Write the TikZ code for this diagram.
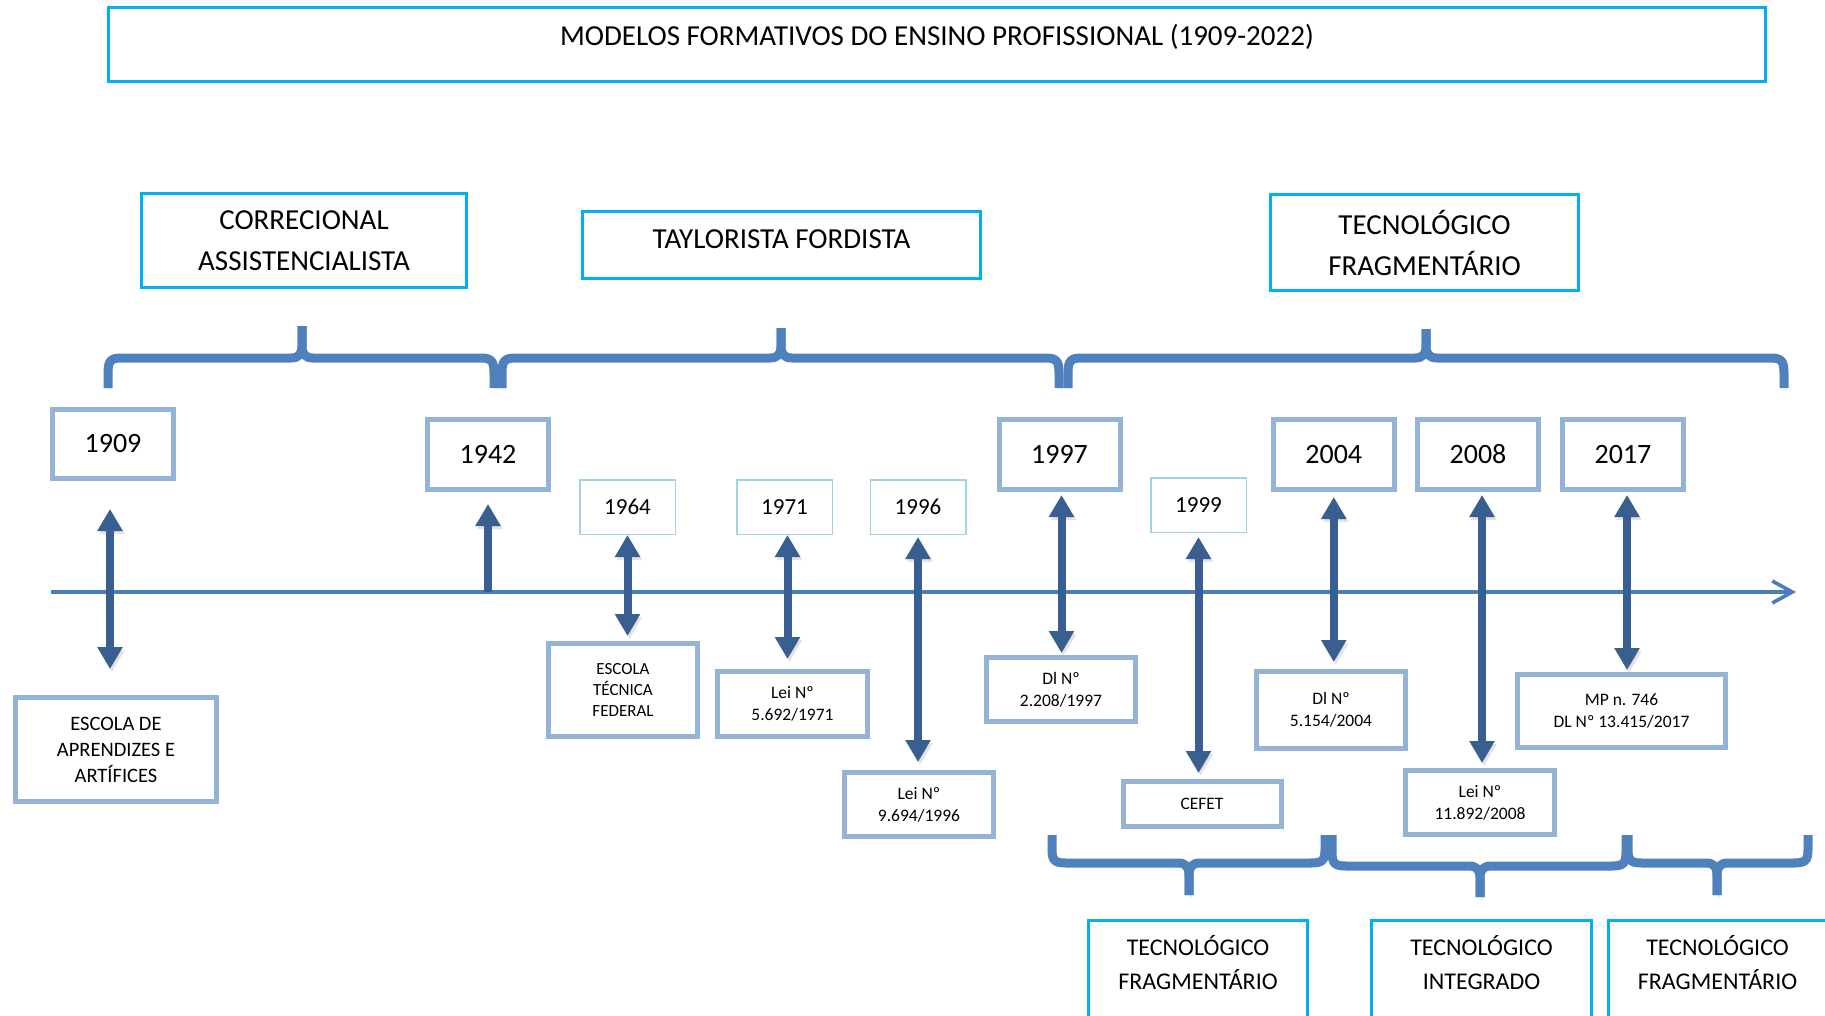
\documentclass[tikz,border=0pt]{standalone}
\usepackage{fontspec}
\setmainfont{Carlito}
\usetikzlibrary{arrows.meta}
\definecolor{cyanc}{HTML}{00B0F0}
\definecolor{yearc}{HTML}{95B3D7}
\definecolor{smallc}{HTML}{A2D2E4}
\definecolor{bracec}{HTML}{4F81BD}
\definecolor{arrowc}{HTML}{395F90}
\definecolor{tlc}{HTML}{4A7EBB}
\begin{document}
\begin{tikzpicture}[x=0.5pt,y=-0.5pt,
  shade/.style={preaction={draw=black!50, opacity=0.22, transform canvas={shift={(1pt,-1.5pt)}}}},
  cbox/.style={draw=cyanc, line width=1.5pt, inner sep=0pt, align=center, fill=white},
  ybox/.style={draw=yearc, line width=2.5pt, inner sep=0pt, align=center, minimum width=60.5pt, minimum height=35pt, font=\fontsize{14}{17}\selectfont},
  sbox/.style={draw=smallc, line width=0.75pt, inner sep=0pt, align=center, minimum width=47.75pt, minimum height=27.25pt, font=\fontsize{11.5}{14}\selectfont},
  lbox/.style={draw=yearc, line width=2.5pt, inner sep=0pt, align=center, font=\fontsize{8.75}{11}\selectfont},
  grp/.style={font=\fontsize{14.5}{20.5}\selectfont},
  grps/.style={font=\fontsize{12}{17}\selectfont, align=center},
  brc/.style={shade, draw=bracec, line width=4.5pt, line join=round},
  dbl/.style={shade, draw=arrowc, line width=4pt, {Triangle[length=11pt,width=12pt]}-{Triangle[length=11pt,width=12pt]}},
  sgl/.style={shade, draw=arrowc, line width=4pt, -{Triangle[length=11pt,width=12pt]}},
  tl/.style={draw=tlc, line width=1.8pt, -{Straight Barb[length=10pt,width=11pt,line width=1.8pt]}}
]
\useasboundingbox (0,0) rectangle (1825,1016);
\clip (0,0) rectangle (1825,1016);
\fill[white] (0,0) rectangle (1825,1016);

% title
\node[cbox, minimum width=828.5pt, minimum height=37pt] (title) at (937,44.5) {};
\node[anchor=base, font=\fontsize{14.5}{17}\selectfont] (titletext) at (937,45.5) {MODELOS FORMATIVOS DO ENSINO PROFISSIONAL (1909-2022)};

% group boxes top
\node[cbox, grp, minimum width=162.5pt, minimum height=47pt] (corr) at (304,240.5) {CORRECIONAL\\ASSISTENCIALISTA};
\node[cbox, minimum width=199pt, minimum height=33.5pt] (tayl) at (781.5,245) {};
\node[grp, anchor=base] (tayltext) at (781.5,249) {TAYLORISTA FORDISTA};
\node[cbox, grp, minimum width=154pt, minimum height=48pt] (tfrag) at (1424.5,242.5) {TECNOLÓGICO\\FRAGMENTÁRIO};

% top braces
\draw[brc] (108,388) -- (108,374) .. controls (108,361) and (110,358) .. (122,358) -- (291,358) .. controls (299,358) and (302,354) .. (302,346) -- (302,326);
\draw[brc] (494,388) -- (494,374) .. controls (494,361) and (492,358) .. (480,358) -- (313,358) .. controls (305,358) and (302,354) .. (302,346) -- (302,326);
\draw[brc] (502,388) -- (502,374) .. controls (502,361) and (504,358) .. (516,358) -- (770,358) .. controls (778,358) and (781,354) .. (781,346) -- (781,328);
\draw[brc] (1059,388) -- (1059,374) .. controls (1059,361) and (1057,358) .. (1045,358) -- (792,358) .. controls (784,358) and (781,354) .. (781,346) -- (781,328);
\draw[brc] (1068,388) -- (1068,374) .. controls (1068,361) and (1070,358) .. (1082,358) -- (1415,358) .. controls (1423,358) and (1426,354) .. (1426,346) -- (1426,329);
\draw[brc] (1784,388) -- (1784,374) .. controls (1784,361) and (1782,358) .. (1770,358) -- (1437,358) .. controls (1429,358) and (1426,354) .. (1426,346) -- (1426,329);

% year boxes
\node[ybox, minimum height=34.5pt] (y1909) at (113,444) {1909};
\node[ybox] (y1942) at (488,454.5) {1942};
\node[sbox] (y1964) at (627.5,507) {1964};
\node[sbox] (y1971) at (784.5,507) {1971};
\node[sbox] (y1996) at (918,507) {1996};
\node[ybox] (y1997) at (1059.5,454.5) {1997};
\node[sbox] (y1999) at (1198.5,505) {1999};
\node[ybox] (y2004) at (1333.75,454.5) {2004};
\node[ybox] (y2008) at (1478,454.5) {2008};
\node[ybox] (y2017) at (1623,454.5) {2017};

% event boxes
\node[lbox, font=\fontsize{10.25}{13}\selectfont, minimum width=100.75pt, minimum height=52pt] (e1909) at (116,749.5) {ESCOLA DE\\APRENDIZES E\\ARTÍFICES};
\node[lbox, font=\fontsize{8.5}{10.5}\selectfont, minimum width=74.5pt, minimum height=46.5pt] (e1964) at (623,690) {ESCOLA\\TÉCNICA\\FEDERAL};
\node[lbox, minimum width=75pt, minimum height=32.5pt] (e1971) at (792.5,704) {Lei Nº\\5.692/1971};
\node[lbox, minimum width=74.75pt, minimum height=32pt] (e1996) at (919,804.5) {Lei Nº\\9.694/1996};
\node[lbox, minimum width=74.5pt, minimum height=32pt] (e1997) at (1061,689.5) {Dl Nº\\2.208/1997};
\node[lbox, minimum width=79pt, minimum height=22.5pt] (e1999) at (1202,804) {CEFET};
\node[lbox, minimum width=74.75pt, minimum height=38.5pt] (e2004) at (1331,710) {Dl Nº\\5.154/2004};
\node[lbox, minimum width=74.5pt, minimum height=32pt] (e2008) at (1480,802.5) {Lei Nº\\11.892/2008};
\node[lbox, minimum width=104pt, minimum height=36.5pt] (e2017) at (1621.5,711) {MP n. 746\\DL Nº 13.415/2017};

% timeline
\coordinate (tl0) at (51,592);
\coordinate (tl1) at (1796,592);
\draw[tl] (tl0) -- (tl1);

% arrows
\draw[dbl, shorten <=14pt, shorten >=13pt] ([xshift=-1.5pt]y1909.south) -- ([xshift=-1.5pt]y1909.south |- e1909.north);
\draw[sgl, shorten >=6pt] (y1942.south |- tl0) -- (y1942.south);
\draw[dbl, shorten <=0pt, shorten >=2.5pt] (y1964.south) -- (y1964.south |- e1964.north);
\draw[dbl, shorten <=0pt, shorten >=5pt] ([xshift=1.5pt]y1971.south) -- ([xshift=1.5pt]y1971.south |- e1971.north);
\draw[dbl, shorten <=1pt, shorten >=4pt] (y1996.south) -- (y1996.south |- e1996.north);
\draw[dbl, shorten <=1.5pt, shorten >=1pt] ([xshift=1pt]y1997.south) -- ([xshift=1pt]y1997.south |- e1997.north);
\draw[dbl, shorten <=2pt, shorten >=3pt] (y1999.south) -- (y1999.south |- e1999.north);
\draw[dbl, shorten <=2.5pt, shorten >=3.5pt] (y2004.south) -- (y2004.south |- e2004.north);
\draw[dbl, shorten <=1.5pt, shorten >=2.5pt] ([xshift=2pt]y2008.south) -- ([xshift=2pt]y2008.south |- e2008.north);
\draw[dbl, shorten <=1.5pt, shorten >=1pt] ([xshift=2pt]y2017.south) -- ([xshift=2pt]y2017.south |- e2017.north);

% bottom braces
\draw[brc] (1052,835) -- (1052,849) .. controls (1052,860) and (1054,863) .. (1066,863) -- (1178,863) .. controls (1186,863) and (1189,867) .. (1189,875) -- (1189,895);
\draw[brc] (1325,835) -- (1325,849) .. controls (1325,860) and (1323,863) .. (1311,863) -- (1200,863) .. controls (1192,863) and (1189,867) .. (1189,875) -- (1189,895);
\draw[brc] (1332,835) -- (1332,851) .. controls (1332,863) and (1334,866) .. (1346,866) -- (1469,866) .. controls (1477,866) and (1480,870) .. (1480,878) -- (1480,897);
\draw[brc] (1626,835) -- (1626,851) .. controls (1626,863) and (1624,866) .. (1612,866) -- (1491,866) .. controls (1483,866) and (1480,870) .. (1480,878) -- (1480,897);
\draw[brc] (1628,835) -- (1628,849) .. controls (1628,860) and (1630,863) .. (1642,863) -- (1706,863) .. controls (1714,863) and (1717,867) .. (1717,875) -- (1717,895);
\draw[brc] (1808,835) -- (1808,849) .. controls (1808,860) and (1806,863) .. (1794,863) -- (1728,863) .. controls (1720,863) and (1717,867) .. (1717,875) -- (1717,895);

% bottom group boxes
\node[cbox, minimum width=109.5pt, minimum height=80pt] (bfrag1) at (1198,1000) {};
\node[grps] (bfrag1text) at (1198,963) {TECNOLÓGICO\\FRAGMENTÁRIO};
\node[cbox, minimum width=110pt, minimum height=80pt] (binteg) at (1481.5,1000) {};
\node[grps] (bintegtext) at (1481.5,963) {TECNOLÓGICO\\INTEGRADO};
\node[cbox, minimum width=109.5pt, minimum height=80pt] (bfrag2) at (1717.5,1000) {};
\node[grps] (bfrag2text) at (1717.5,963) {TECNOLÓGICO\\FRAGMENTÁRIO};
\end{tikzpicture}
\end{document}
